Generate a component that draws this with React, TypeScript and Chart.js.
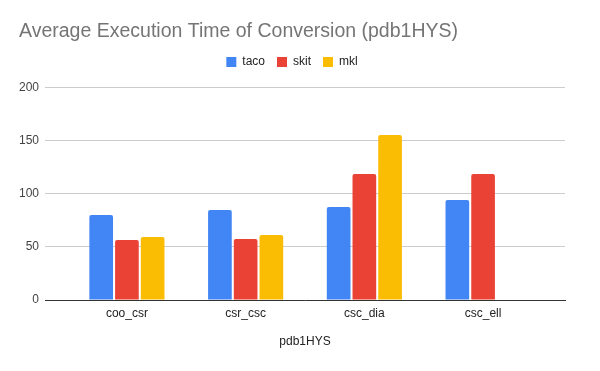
import React, { useEffect, useRef } from "react";
import { Chart, registerables } from "chart.js";

Chart.register(...registerables);

const categories = ["coo_csr", "csr_csc", "csc_dia", "csc_ell"];
const tacoValues = [80.2, 84.9, 87.7, 94.3];
const skitValues = [56.6, 57.5, 118.9, 118.9];
const mklValues: (number | null)[] = [59.4, 61.3, 155.7, null];
const yTicks = [0, 50, 100, 150, 200];

const FONT = "'Liberation Sans', Arial, sans-serif";

export default function App() {
  const ref = useRef<HTMLCanvasElement>(null);
  useEffect(() => {
    document.body.style.margin = "0";
    const toPts = (arr: (number | null)[]) => arr.map((v, i) => ({ x: i, y: v }));
    const chart = new Chart(ref.current!, {
      type: "bar",
      data: {
        datasets: [
          { label: "taco", data: toPts(tacoValues) as any, backgroundColor: "#4285F4", borderRadius: 2, borderSkipped: "bottom" },
          { label: "skit", data: toPts(skitValues) as any, backgroundColor: "#EA4335", borderRadius: 2, borderSkipped: "bottom" },
          { label: "mkl", data: toPts(mklValues) as any, backgroundColor: "#FBBC04", borderRadius: 2, borderSkipped: "bottom" },
        ],
      },
      options: {
        animation: false,
        responsive: false,
        maintainAspectRatio: false,
        categoryPercentage: 0.65,
        barPercentage: 0.92,
        layout: { padding: { left: 19, right: 35, top: 0, bottom: 0 } },
        plugins: {
          title: {
            display: true,
            text: "Average Execution Time of Conversion (pdb1HYS)",
            align: "start",
            color: "#757575",
            font: { family: FONT, size: 19.5, weight: "normal", lineHeight: 1.23 },
            padding: { top: 20, bottom: 0 },
          },
          subtitle: {
            display: true,
            text: " ",
            weight: 500,
            font: { family: FONT, size: 10, lineHeight: 1 },
            padding: 0,
          },
          legend: {
            display: true,
            weight: 1000,
            labels: {
              boxWidth: 10,
              boxHeight: 10,
              color: "#222",
              font: { family: FONT, size: 12 },
              padding: 12,
            },
          },
          tooltip: { enabled: false },
        },
        scales: {
          x: {
            type: "linear",
            min: -0.69,
            max: 3.69,
            offset: false,
            grid: { display: false, drawTicks: false },
            border: { display: true, color: "#333", width: 1 },
            ticks: {
              stepSize: 1,
              includeBounds: false,
              autoSkip: false,
              maxRotation: 0,
              color: "#222",
              font: { family: FONT, size: 12 },
              padding: 6,
              callback: (v: any) => {
                const n = Number(v);
                return Number.isInteger(n) && n >= 0 && n < categories.length ? categories[n] : "";
              },
            },
            title: {
              display: true,
              text: "pdb1HYS",
              color: "#222",
              font: { family: FONT, size: 12 },
              padding: { top: 4, bottom: 22 },
            },
            afterFit: (s: any) => {
              s.height = 71;
            },
          },
          y: {
            min: 0,
            max: 200,
            grid: { color: "#cccccc", drawTicks: false },
            border: { display: false },
            afterBuildTicks: (s: any) => {
              s.ticks = yTicks.map((v) => ({ value: v }));
            },
            ticks: {
              color: "#444",
              font: { family: FONT, size: 12 },
              padding: 6,
            },
            afterFit: (s: any) => {
              s.width = 26;
            },
          },
        },
      } as any,
    });
    return () => chart.destroy();
  }, []);
  return (
    <div style={{ width: 600, height: 371, position: "relative", background: "#fff" }}>
      <canvas ref={ref} width={600} height={371} style={{ width: 600, height: 371 }} />
    </div>
  );
}
